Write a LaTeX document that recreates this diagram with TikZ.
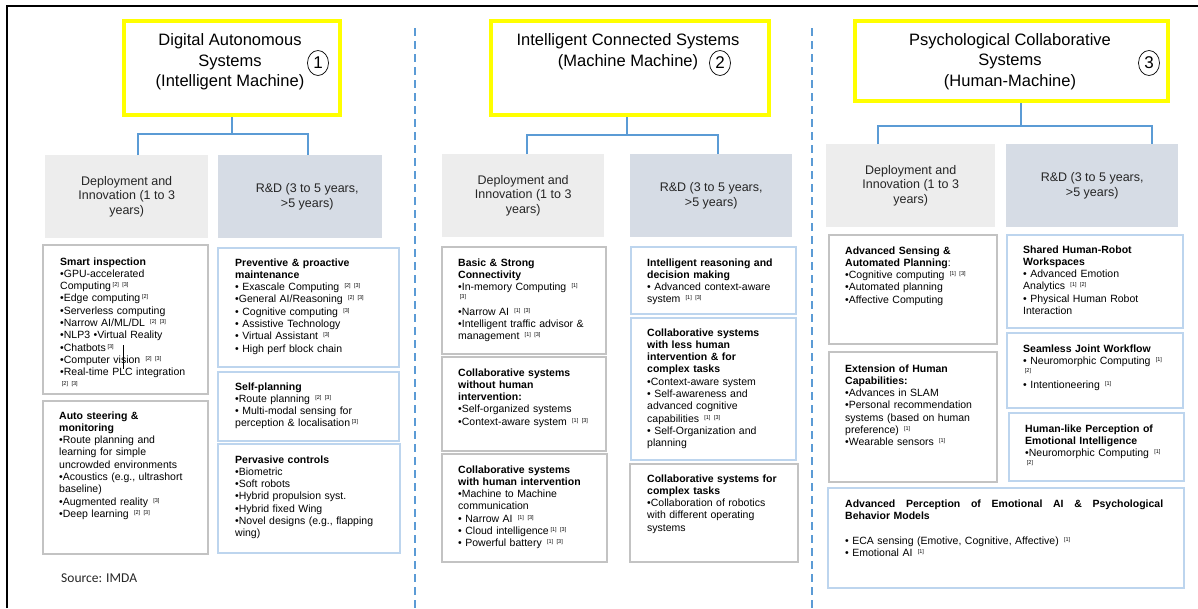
\documentclass[tikz,border=0pt]{standalone}
\usepackage{fontspec}
\setmainfont{Liberation Sans}
\newfontfamily\srcfont{Carlito}
\usetikzlibrary{shapes.geometric}

\definecolor{hdrgray}{HTML}{EDEDED}
\definecolor{hdrblue}{HTML}{D6DCE5}
\definecolor{edgegray}{HTML}{C3C3C3}
\definecolor{edgeblue}{HTML}{BDD5EE}
\definecolor{linkblue}{HTML}{5B9BD5}
\definecolor{hiyellow}{HTML}{FFFF00}

% small bracketed reference marks
\newcommand\rf[1]{\,\raisebox{3pt}{\fontsize{5.5}{6}\selectfont #1}}
% rectangle node from its corners: name, style, x1, y1, x2, y2, text
\newcommand\boxnode[7]{%
  \node[#2, anchor=north west, inner sep=0pt,
        minimum width={(#5)-(#3)}, minimum height={(#6)-(#4)}] (#1) at (#3,#4) {#7};}
% left-aligned body text whose first baseline sits at the given point
\newcommand\bodytext[4]{\node[body, anchor=base west] (#1) at (#2,#3) {#4};}

\begin{document}
\begin{tikzpicture}[x=1pt, y=-1pt,
  titlebox/.style={draw=hiyellow, line width=4pt},
  titletext/.style={align=center, inner sep=0pt, font=\fontsize{16.5}{20.5}\selectfont},
  nummark/.style={ellipse, draw, line width=0.7pt, inner sep=0pt, minimum width=21pt,
                  minimum height=25pt, font=\fontsize{17}{17}\selectfont},
  hdrdep/.style={fill=hdrgray, align=center, text=black!85, font=\fontsize{12.5}{14.5}\selectfont},
  hdrrd/.style={fill=hdrblue, align=center, text=black!85, font=\fontsize{12.5}{14.5}\selectfont},
  gbox/.style={draw=edgegray, line width=2pt},
  bbox/.style={draw=edgeblue, line width=2.4pt},
  body/.style={inner sep=0pt, align=left, text width=330pt, font=\fontsize{10.5}{12.3}\selectfont},
  conn/.style={draw=linkblue, line width=2pt},
  sep/.style={draw=linkblue, line width=1.8pt, dash pattern=on 8pt off 5pt}]

\useasboundingbox (0,0) rectangle (1198,608);
\fill[white] (0,0) rectangle (1198,608);

% outer frame and column separators
\draw[line width=2.2pt] (7,608) -- (7,6) -- (1198,6);
\draw[sep] (415,28) -- (415,608);
\draw[sep] (812,28) -- (812,608);

% ---------- column 1 ----------
\boxnode{t1}{titlebox}{122}{19}{338}{113}{}
\node[titletext] (t1txt) at (230,62) {Digital Autonomous\\Systems\\(Intelligent Machine)};
\node[nummark] (c1) at (318,63) {1};

\boxnode{d1}{hdrdep}{45}{155}{208}{238}{Deployment and\\Innovation (1 to 3\\years)}
\boxnode{r1}{hdrrd}{218}{155}{382}{238}{\hspace*{14pt}R\&D (3 to 5 years,\\\hspace*{14pt}>5 years)}

\draw[conn] (t1.south) -- ++(0,17) coordinate (j1);
\draw[conn] ([xshift=11.5pt]d1.north) |- (j1) -| ([xshift=8pt]r1.north);

\boxnode{a1}{gbox}{42}{244}{207}{393}{}
\bodytext{a1t}{60}{265}{\textbf{Smart inspection}\\
•GPU-accelerated\\
Computing\rf{[2] [3]}\\
•Edge computing\rf{[2]}\\
•Serverless computing\\
•Narrow AI/ML/DL \rf{[2] [3]}\\
•NLP3 •Virtual Reality\\
•Chatbots\rf{[3]}\\
•Computer vision \rf{[2] [3]}\\
•Real-time PLC integration\\
\rf{[2] [3]}}
\draw[line width=0.7pt] (123,345) -- (123,369);

\boxnode{a2}{gbox}{42}{400}{207}{553}{}
\bodytext{a2t}{59}{419}{\textbf{Auto steering \&}\\
\textbf{monitoring}\\
•Route planning and\\
learning for simple\\
uncrowded environments\\
•Acoustics (e.g., ultrashort\\
baseline)\\
•Augmented reality \rf{[3]}\\
•Deep learning \rf{[2] [3]}}

\boxnode{b1}{bbox}{217}{247}{398}{366}{}
\bodytext{b1t}{235}{266}{\textbf{Preventive \& proactive}\\
\textbf{maintenance}\\
• Exascale Computing \rf{[2] [3]}\\
•General AI/Reasoning \rf{[2] [3]}\\
• Cognitive computing \rf{[3]}\\
• Assistive Technology\\
• Virtual Assistant \rf{[3]}\\
• High perf block chain}

\boxnode{b2}{bbox}{217}{371}{398}{440}{}
\bodytext{b2t}{235}{390}{\textbf{Self-planning}\\
•Route planning \rf{[2] [3]}\\
• Multi-modal sensing for\\
perception \& localisation\rf{[3]}}

\boxnode{b3}{bbox}{217}{443}{399}{552}{}
\bodytext{b3t}{235}{463}{\textbf{Pervasive controls}\\
•Biometric\\
•Soft robots\\
•Hybrid propulsion syst.\\
•Hybrid fixed Wing\\
•Novel designs (e.g., flapping\\
wing)}

\node[anchor=base west, inner sep=0pt, text=black!85, font=\srcfont\fontsize{13.5}{15}\selectfont] (src) at (61,582) {Source: IMDA};

% ---------- column 2 ----------
\boxnode{t2}{titlebox}{489}{19}{767}{113}{}
\node[titletext] (t2txt) at (628,51.5) {Intelligent Connected Systems\\(Machine Machine)};
\node[nummark] (c2) at (720,63) {2};

\boxnode{d2}{hdrdep}{442}{154}{604}{237}{Deployment and\\Innovation (1 to 3\\years)}
\boxnode{r2}{hdrrd}{630}{154}{792}{237}{R\&D (3 to 5 years,\\>5 years)}

\draw[conn] ([xshift=-3pt]t2.south) -- ++(0,18) coordinate (j2);
\draw[conn] ([xshift=4pt]d2.north) |- (j2) -| ([xshift=7pt]r2.north);

\boxnode{e1}{gbox}{441}{246}{605}{353}{}
\bodytext{e1t}{458}{266}{\textbf{Basic \& Strong}\\
\textbf{Connectivity}\\
•In-memory Computing \rf{[1]}\\[-1.5pt]
\rf{[3]}\\[1.5pt]
•Narrow AI \rf{[1] [3]}\\
•Intelligent traffic advisor \&\\
management \rf{[1] [3]}}

\boxnode{e2}{gbox}{441}{356}{605}{450}{}
\bodytext{e2t}{458}{376}{\textbf{Collaborative systems}\\
\textbf{without human}\\
\textbf{intervention:}\\
•Self-organized systems\\
•Context-aware system \rf{[1] [3]}}

\boxnode{e3}{gbox}{441}{453}{606}{561}{}
\bodytext{e3t}{458}{473}{\textbf{Collaborative systems}\\
\textbf{with human intervention}\\
•Machine to Machine\\
communication\\
• Narrow AI \rf{[1] [3]}\\
• Cloud intelligence\rf{[1] [3]}\\
• Powerful battery \rf{[1] [3]}}

\boxnode{f1}{bbox}{630}{246}{795}{313}{}
\bodytext{f1t}{647}{266}{\textbf{Intelligent reasoning and}\\
\textbf{decision making}\\
• Advanced context-aware\\
system \rf{[1] [3]}}

\boxnode{f2}{bbox}{630}{317}{795}{459}{}
\bodytext{f2t}{647}{336}{\textbf{Collaborative systems}\\
\textbf{with less human}\\
\textbf{intervention \& for}\\
\textbf{complex tasks}\\
•Context-aware system\\
• Self-awareness and\\
advanced cognitive\\
capabilities \rf{[1] [3]}\\
• Self-Organization and\\
planning}

\boxnode{f3}{gbox}{629}{463}{797}{561}{}
\bodytext{f3t}{647}{482}{\textbf{Collaborative systems for}\\
\textbf{complex tasks}\\
•Collaboration of robotics\\
with different operating\\
systems}

% ---------- column 3 ----------
\boxnode{t3}{titlebox}{853}{19}{1166}{99}{}
\node[titletext] (t3txt) at (1010,61.5) {Psychological Collaborative\\Systems\\(Human-Machine)};
\node[nummark] (c3) at (1149,63) {3};

\boxnode{d3}{hdrdep}{826}{144}{995}{227}{Deployment and\\Innovation (1 to 3\\years)}
\boxnode{r3}{hdrrd}{1006}{144}{1178}{227}{R\&D (3 to 5 years,\\>5 years)}

\draw[conn] ([xshift=9.5pt]t3.south) -- ++(0,23) coordinate (j3);
\draw[conn] ([xshift=-32.5pt]d3.north) |- (j3) -| ([xshift=59.5pt]r3.north);

\boxnode{g1}{gbox}{828}{234}{996}{343}{}
\bodytext{g1t}{845}{254}{\textbf{Advanced Sensing \&}\\
\textbf{Automated Planning}:\\
•Cognitive computing \rf{[1] [3]}\\
•Automated planning\\
•Affective Computing}

\boxnode{g2}{gbox}{828}{351}{996}{481}{}
\bodytext{g2t}{845}{372}{\textbf{Extension of Human}\\
\textbf{Capabilities:}\\
•Advances in SLAM\\
•Personal recommendation\\
systems (based on human\\
preference) \rf{[1]}\\
•Wearable sensors \rf{[1]}}

\boxnode{h1}{bbox}{1006}{234}{1182}{327}{}
\bodytext{h1t}{1023}{253}{\textbf{Shared Human-Robot}\\
\textbf{Workspaces}\\
• Advanced Emotion\\
Analytics \rf{[1] [2]}\\
• Physical Human Robot\\
Interaction}

\boxnode{h2}{bbox}{1006}{332}{1182}{407}{}
\bodytext{h2t}{1023}{352}{\textbf{Seamless Joint Workflow}\\
• Neuromorphic Computing \rf{[1]}\\[-1.5pt]
\rf{[2]}\\[1.5pt]
• Intentioneering \rf{[1]}}

\boxnode{h3}{bbox}{1008}{412}{1183}{480}{}
\bodytext{h3t}{1025}{432}{\textbf{Human-like Perception of}\\
\textbf{Emotional Intelligence}\\
•Neuromorphic Computing \rf{[1]}\\[-1.5pt]
\rf{[2]}}

\boxnode{k1}{bbox}{827}{487}{1183}{587}{}
\bodytext{k1t}{845}{507}{\hbox to 318pt{\bfseries Advanced\hfill Perception\hfill of\hfill Emotional\hfill AI\hfill \&\hfill Psychological}\\
\textbf{Behavior Models}\\[12.7pt]
• ECA sensing (Emotive, Cognitive, Affective) \rf{[1]}\\
• Emotional AI \rf{[1]}}

\end{tikzpicture}
\end{document}
